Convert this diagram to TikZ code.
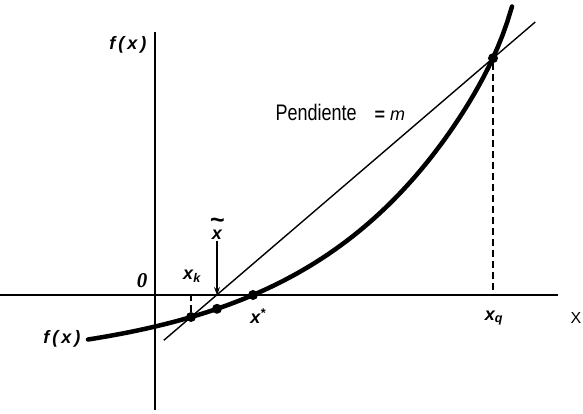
\documentclass[tikz,border=0pt]{standalone}
\usepackage{fontspec}
\setmainfont{Liberation Sans}
\newfontfamily\seriffont{Liberation Serif}
\usetikzlibrary{calc,arrows.meta}
\tikzset{
  pto/.style={circle,fill,inner sep=0pt,minimum size=10pt},
  lbl/.style={font=\fontsize{18}{20}\selectfont\bfseries\itshape},
  axis/.style={line width=2.6pt},
  guia/.style={dash pattern=on 7pt off 4pt, line width=1.2pt},
}
\begin{document}
\begin{tikzpicture}[>=Stealth, x=1pt, y=-1pt]
\useasboundingbox (0,0) rectangle (583,413);
% ejes
\coordinate (O) at (155,295);
\draw[axis] (0,295)--(558,295);
\draw[axis] (155,32)--(155,410);
\node[lbl,anchor=east] (fx) at (150,45) {f\,(\,x\,)};
\node[font=\seriffont\fontsize{21}{23}\selectfont\bfseries\itshape] (cero) at (142,281) {0};
\node[font=\fontsize{16}{18}\selectfont] (ejex) at (576,318) {X};

% curva
\draw[line width=4.5pt, line cap=round] plot[domain=88:512, samples=90]
  (\x, {365.1-70.1*exp(0.0061*(\x-253))-18*exp(0.08*(\x-512))});
\node[lbl,anchor=east] (fxl) at (84,339) {f\,(\,x\,)};

% puntos
\foreach \n/\x/\y in {xk/191/317,xt/217/308.8,xs/253/295,xq/493/58.2}
{
    \node[pto] (\n) at (\x,\y) {};
}

% secante
\draw[line width=1.4pt] ($(xk)!-0.09!(xq)$) -- ($(xk)!1.14!(xq)$);
\node[font=\fontsize{18}{20}\selectfont, anchor=west] (pend) at (272,112)
  {\scalebox{1}[1.25]{Pendiente}\quad\textbf{=} \textit{m}};

\draw[guia] (xq) -- (xq |- O);
\draw[guia] (xk) -- (xk |- O);

\node[lbl] (xkl) at (192,276) {x\textsubscript{k}};
\node[lbl] (xsl) at (258,316) {x\textsuperscript{*}};
\node[lbl] (xql) at (494,318) {x\textsubscript{q}};
\node[lbl, inner sep=1pt] (xtl) at (217,229) {\shortstack{\scalebox{1.4}{\char`\~}\\[-2pt]x}};
\draw[->, line width=1.1pt] (xtl.south) -- (xt |- O);
\end{tikzpicture}
\end{document}
